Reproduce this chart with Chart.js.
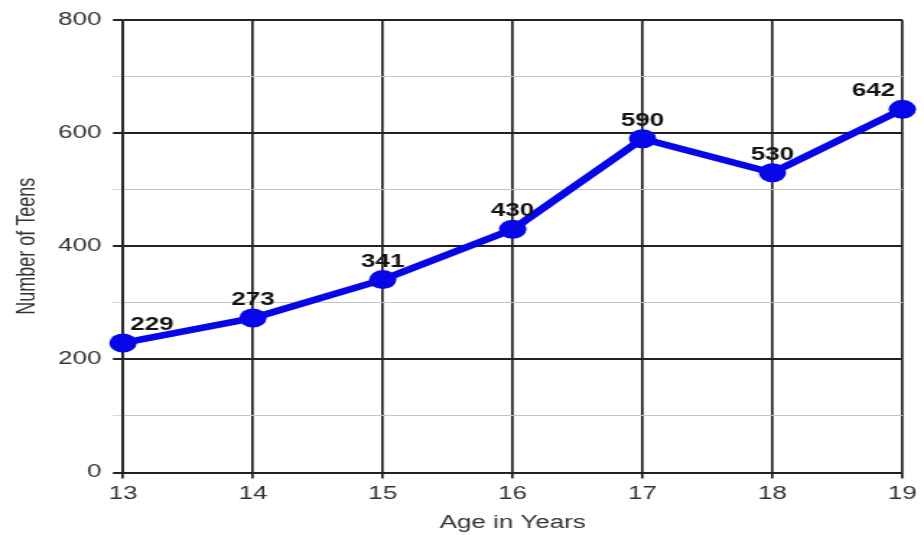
<!DOCTYPE html>
<html>
<head>
<meta charset="utf-8">
<script src="https://cdn.jsdelivr.net/npm/chart.js@4/dist/chart.umd.min.js"></script>
<style>
  html, body { margin: 0; padding: 0; background: #ffffff; overflow: hidden; }
  /* the chart is drawn at 640px wide and stretched across the 924px page */
  #wrap { width: 640px; height: 535px; transform: scaleX(1.44375); transform-origin: 0 0; }
  canvas { display: block; }
</style>
</head>
<body>
<div id="wrap"><canvas id="chart" width="640" height="535" style="width:640px;height:535px"></canvas></div>
<script>
// Teens counted at each age
const ages = [13, 14, 15, 16, 17, 18, 19];
const teens = [229, 273, 341, 430, 590, 530, 642];
const yMajorTicks = [0, 200, 400, 600, 800];

const FONT = "'Liberation Sans', Arial, Helvetica, sans-serif";
const LINE_BLUE = '#0606e8';
const GRID_DARK = '#222222';

// Value labels above each point, kept inside the plot area
const valueLabels = {
  id: 'valueLabels',
  afterDatasetsDraw(chart) {
    const ctx = chart.ctx;
    const area = chart.chartArea;
    const meta = chart.getDatasetMeta(0);
    ctx.save();
    ctx.font = 'bold 18px ' + FONT;
    ctx.fillStyle = '#141414';
    ctx.textAlign = 'center';
    ctx.textBaseline = 'alphabetic';
    meta.data.forEach((pt, i) => {
      const text = String(teens[i]);
      const half = ctx.measureText(text).width / 2;
      let x = pt.x;
      x = Math.max(x, area.left + 5 + half);
      x = Math.min(x, area.right - 5 - half);
      ctx.fillText(text, x, pt.y - 13);
    });
    ctx.restore();
  }
};

new Chart(document.getElementById('chart'), {
  type: 'line',
  data: {
    datasets: [{
      data: ages.map((a, i) => ({ x: a, y: teens[i] })),
      borderColor: LINE_BLUE,
      backgroundColor: LINE_BLUE,
      borderWidth: 6.5,
      pointRadius: 9.5,
      pointBackgroundColor: LINE_BLUE,
      pointBorderColor: LINE_BLUE,
      pointBorderWidth: 0,
      tension: 0,
      clip: false
    }]
  },
  options: {
    responsive: false,
    animation: false,
    events: [],
    devicePixelRatio: 1,
    layout: { padding: { left: 0, top: 20, right: 13.2, bottom: 0 } },
    plugins: { legend: { display: false }, tooltip: { enabled: false } },
    scales: {
      x: {
        type: 'linear',
        min: 13,
        max: 19,
        afterFit(scale) { scale.height = 62.5; },
        ticks: {
          stepSize: 1,
          padding: 5,
          color: '#333333',
          font: { family: FONT, size: 18 }
        },
        grid: {
          color: GRID_DARK,
          lineWidth: 1.7,
          tickLength: 6,
          tickColor: GRID_DARK,
          tickWidth: 1.7
        },
        border: { color: GRID_DARK, width: 2 },
        title: {
          display: true,
          text: 'Age in Years',
          color: '#333333',
          font: { family: FONT, size: 18 },
          padding: { top: 0, bottom: 1 }
        }
      },
      y: {
        min: 0,
        max: 800,
        afterFit(scale) { scale.width = 85.2; },
        ticks: {
          stepSize: 100,
          autoSkip: false,
          padding: 8,
          color: '#333333',
          font: { family: FONT, size: 18 },
          callback: (v) => (yMajorTicks.includes(v) ? String(v) : '')
        },
        grid: {
          color: (c) => (yMajorTicks.includes(c.tick.value) ? GRID_DARK : '#c4c4c4'),
          lineWidth: (c) => (yMajorTicks.includes(c.tick.value) ? 2 : 1),
          tickLength: 7,
          tickColor: (c) => (yMajorTicks.includes(c.tick.value) ? GRID_DARK : '#d8d8d8'),
          tickWidth: (c) => (yMajorTicks.includes(c.tick.value) ? 2 : 1)
        },
        border: { color: GRID_DARK, width: 1.7 },
        title: {
          display: true,
          text: 'Number of Teens',
          color: '#333333',
          font: { family: FONT, size: 18 },
          padding: { top: 8.6, bottom: 0 }
        }
      }
    }
  },
  plugins: [valueLabels]
});
</script>
</body>
</html>
